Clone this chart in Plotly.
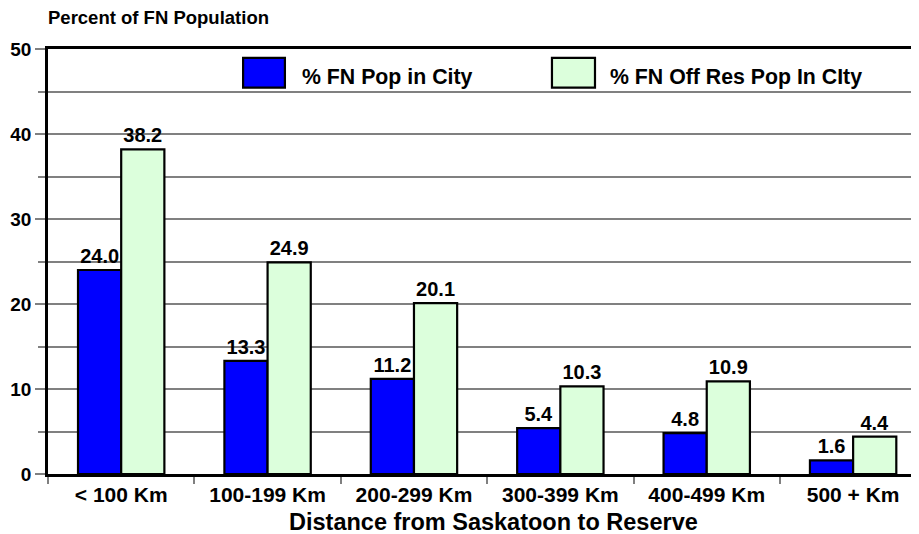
import plotly.graph_objects as go

categories = ["< 100 Km", "100-199 Km", "200-299 Km", "300-399 Km", "400-499 Km", "500 + Km"]
fn_pop_in_city = [24.0, 13.3, 11.2, 5.4, 4.8, 1.6]
fn_off_res_pop_in_city = [38.2, 24.9, 20.1, 10.3, 10.9, 4.4]
series_names = ["% FN Pop in City", "% FN Off Res Pop In CIty"]
y_ticks = [0, 10, 20, 30, 40, 50]

BLUE = "#0000FF"
GREEN = "#DCFFDC"
GRID = "#808080"
FONT = "Liberation Sans, Arial, sans-serif"

fig = go.Figure()
for name, vals, col in [(series_names[0], fn_pop_in_city, BLUE),
                        (series_names[1], fn_off_res_pop_in_city, GREEN)]:
    fig.add_trace(go.Bar(
        x=categories, y=vals, name=name,
        marker=dict(color=col, line=dict(color="black", width=2.2)),
        texttemplate="<b>%{y:.1f}</b>", textposition="outside",
        textfont=dict(family=FONT, size=20, color="black"),
        cliponaxis=False, showlegend=False,
    ))

# page body adds an 8px offset, so the figure is sized to fill the rest of the window
fig.update_layout(
    width=911, height=526,
    margin=dict(l=40, r=0, t=41, b=60),
    paper_bgcolor="white", plot_bgcolor="white",
    barmode="group", bargap=0.41, bargroupgap=0.0,
    font=dict(family=FONT, size=16, color="black"),
)
fig.update_xaxes(
    range=[-0.5, 5.45], automargin=False,
    showline=True, linecolor="black", linewidth=2.5, mirror=True,
    ticks="outside", tickson="boundaries", ticklen=7, tickcolor=GRID, tickwidth=1.5,
    tickvals=categories, ticktext=[f"<b>{c}</b>" for c in categories],
    tickfont=dict(family=FONT, size=21, color="black"),
    showgrid=False,
)
fig.update_yaxes(
    range=[0, 50], automargin=False,
    showline=True, linecolor="black", linewidth=2.5,
    tickvals=y_ticks, ticktext=[f"<b>{t}</b>" for t in y_ticks],
    ticks="outside", ticklen=10, tickcolor=GRID, tickwidth=1.5,
    tickfont=dict(family=FONT, size=19, color="black"),
    showgrid=True, gridcolor=GRID, gridwidth=1.5,
    minor=dict(dtick=5, showgrid=True, gridcolor=GRID, gridwidth=1.5,
               ticks="outside", ticklen=7, tickcolor=GRID, tickwidth=1.5),
    zeroline=False,
)

# X-axis title
fig.add_annotation(text="<b>Distance from Saskatoon to Reserve</b>", xref="paper", yref="paper",
                   x=0.511, y=-0.113, xanchor="center", yanchor="middle", showarrow=False,
                   font=dict(family=FONT, size=23.5, color="black"))

# Y-axis title placed at top-left like the original
fig.add_annotation(text="<b>Percent of FN Population</b>", xref="paper", yref="paper",
                   x=-0.002, y=1.075, xanchor="left", yanchor="middle", showarrow=False,
                   font=dict(family=FONT, size=18.5, color="black"))

# Custom legend with large swatches
legend_items = [(series_names[0], BLUE, 0.224, 0.272, 0.2893),
                (series_names[1], GREEN, 0.5786, 0.628, 0.643)]
for name, col, x0, x1, xt in legend_items:
    fig.add_shape(type="rect", xref="paper", yref="paper",
                  x0=x0, x1=x1, y0=0.909, y1=0.979,
                  fillcolor=col, line=dict(color="black", width=2.2))
    fig.add_annotation(text=f"<b>{name}</b>", xref="paper", yref="paper",
                       x=xt, y=0.935, xanchor="left", yanchor="middle",
                       showarrow=False, font=dict(family=FONT, size=21.3, color="black"))

fig.write_html("out.html")
